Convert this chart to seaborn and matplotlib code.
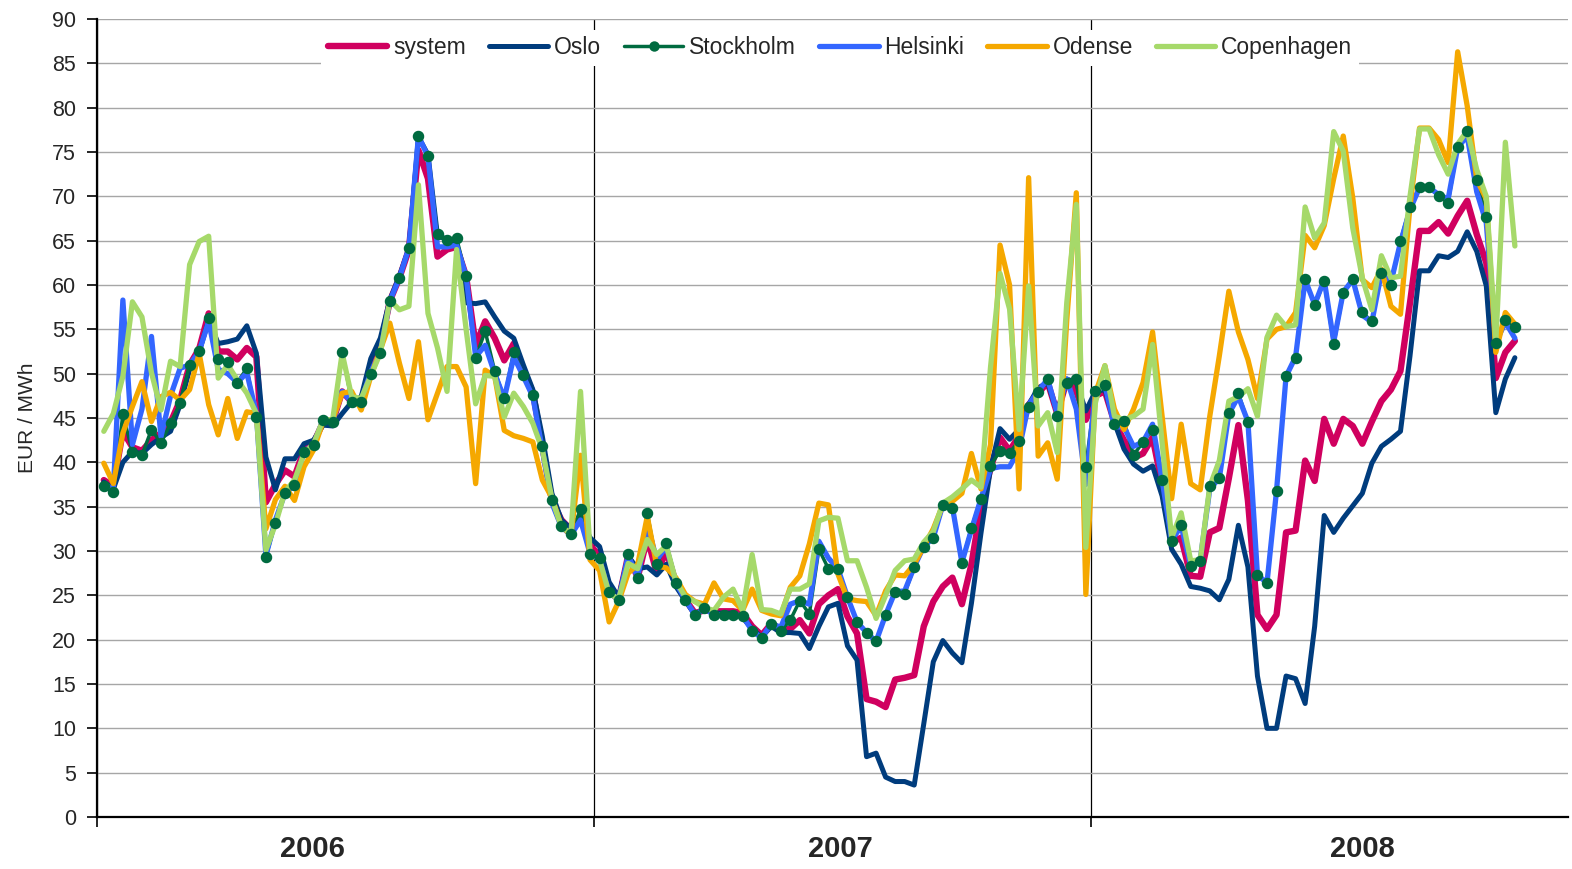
import matplotlib
matplotlib.use("Agg")
import matplotlib.pyplot as plt
from matplotlib.ticker import NullFormatter
import pandas as pd
import seaborn as sns

# weekly price observations, Jan 2006 - Nov 2008
weeks = pd.date_range("2006-01-06", periods=149, freq="7D")
year_starts = pd.to_datetime(["2006-01-01", "2007-01-01", "2008-01-01"])
year_labels = ["2006", "2007", "2008"]
year_label_dates = pd.to_datetime(["2006-06-08", "2007-07-01", "2008-07-18"])

system = [
    38.0, 37.3, 43.5, 41.7, 41.3, 42.5, 43.3, 44.5, 47.0, 51.0,
    52.8, 56.8, 52.5, 52.5, 51.6, 52.9, 51.9, 35.5, 37.5, 39.1,
    38.4, 41.4, 42.2, 44.5, 44.5, 48.0, 46.8, 47.0, 50.5, 53.0,
    58.2, 60.8, 64.0, 75.2, 72.0, 63.2, 64.0, 64.3, 61.0, 53.2,
    55.9, 54.0, 51.5, 53.4, 50.4, 47.9, 41.8, 35.7, 33.5, 32.4,
    33.9, 30.7, 29.4, 25.5, 24.5, 29.5, 27.0, 31.5, 27.5, 30.0,
    26.4, 24.5, 23.0, 23.3, 23.2, 23.2, 23.2, 23.0, 21.5, 20.5,
    21.8, 21.2, 21.2, 22.2, 20.7, 24.0, 25.0, 25.7, 22.6, 20.7,
    13.3, 13.0, 12.4, 15.5, 15.7, 16.0, 21.5, 24.3, 26.0, 27.0,
    24.0, 28.5, 35.0, 39.3, 42.8, 41.3, 43.0, 46.5, 47.8, 49.0,
    45.5, 49.2, 48.0, 44.8, 47.5, 48.0, 44.5, 42.5, 40.5, 41.0,
    42.8, 37.5, 31.0, 31.5, 27.2, 27.1, 32.1, 32.6, 38.2, 44.2,
    35.7, 22.8, 21.2, 22.8, 32.1, 32.3, 40.2, 37.9, 44.9, 42.1,
    44.9, 44.1, 42.1, 44.6, 46.9, 48.2, 50.3, 58.0, 66.1, 66.1,
    67.1, 65.8, 67.8, 69.5, 65.7, 62.5, 49.5, 52.4, 53.7,
]
oslo = [
    37.8, 37.0, 40.0, 41.2, 41.0, 42.0, 42.8, 43.5, 46.5, 50.5,
    52.5, 56.0, 53.4, 53.6, 53.9, 55.4, 52.3, 40.6, 36.9, 40.4,
    40.4, 42.1, 42.5, 44.2, 44.1, 45.5, 46.8, 47.4, 51.7, 54.0,
    58.3, 61.0, 64.1, 76.7, 74.7, 65.5, 65.2, 64.5, 58.0, 57.9,
    58.1, 56.4, 54.8, 54.0, 51.0, 48.2, 42.9, 36.5, 33.5, 32.5,
    33.8, 31.5, 30.5, 26.5, 24.8, 29.4, 28.0, 28.2, 27.3, 28.5,
    26.0, 24.4, 22.8, 23.5, 23.0, 23.0, 23.0, 22.5, 21.2, 20.3,
    21.5, 20.8, 20.8, 20.7, 19.0, 21.5, 23.7, 24.1, 19.3, 17.7,
    6.8, 7.2, 4.5, 4.0, 4.0, 3.6, 10.5, 17.5, 19.9, 18.5,
    17.4, 24.1, 32.0, 39.3, 43.8, 42.6, 43.7, 46.5, 48.4, 49.0,
    45.6, 49.4, 49.0, 45.8, 48.0, 48.2, 44.5, 41.5, 39.8, 39.0,
    39.6, 36.2, 30.2, 28.5, 26.0, 25.8, 25.5, 24.5, 26.8, 32.9,
    28.2, 15.9, 10.0, 10.0, 15.9, 15.6, 12.8, 21.5, 34.0, 32.1,
    33.7, 35.1, 36.5, 39.9, 41.8, 42.6, 43.5, 52.0, 61.6, 61.6,
    63.3, 63.1, 63.8, 66.0, 63.8, 59.9, 45.6, 49.4, 51.8,
]
stockholm = [
    37.3, 36.6, 45.4, 41.2, 40.8, 43.7, 42.2, 44.4, 46.7, 51.0,
    52.6, 56.3, 51.6, 51.3, 49.0, 50.6, 45.1, 29.3, 33.2, 36.5,
    37.4, 41.2, 42.0, 44.8, 44.6, 52.5, 46.8, 46.8, 50.0, 52.3,
    58.2, 60.8, 64.2, 76.8, 74.5, 65.7, 65.1, 65.3, 61.0, 51.8,
    54.8, 50.3, 47.2, 52.5, 49.8, 47.6, 41.8, 35.7, 32.8, 31.9,
    34.7, 29.7, 29.2, 25.4, 24.5, 29.7, 26.9, 34.3, 28.5, 30.9,
    26.4, 24.5, 22.8, 23.6, 22.8, 22.8, 22.8, 22.7, 21.0, 20.2,
    21.8, 21.0, 22.2, 24.4, 22.9, 30.2, 28.0, 28.0, 24.8, 22.0,
    20.8, 19.8, 22.8, 25.4, 25.2, 28.2, 30.5, 31.5, 35.2, 34.8,
    28.7, 32.6, 35.9, 39.6, 41.3, 41.1, 42.4, 46.2, 47.9, 49.4,
    45.2, 49.0, 49.4, 39.5, 48.0, 48.7, 44.3, 44.7, 40.8, 42.3,
    43.7, 38.0, 31.1, 32.9, 28.3, 28.9, 37.3, 38.2, 45.6, 47.8,
    44.5, 27.3, 26.4, 36.8, 49.7, 51.8, 60.7, 57.7, 60.4, 53.3,
    59.1, 60.7, 56.9, 55.9, 61.4, 60.0, 65.0, 68.8, 71.1, 71.1,
    70.0, 69.3, 75.6, 77.4, 71.8, 67.7, 53.5, 56.0, 55.3,
]
helsinki = [
    37.5, 37.0, 58.3, 42.0, 46.0, 54.2, 42.9, 47.5, 50.6, 51.0,
    52.5, 55.9, 50.5, 50.0, 49.0, 50.1, 45.5, 29.5, 33.5, 36.5,
    37.4, 41.2, 42.0, 44.8, 44.6, 48.0, 46.8, 47.0, 50.2, 52.5,
    58.2, 60.8, 64.2, 76.8, 74.5, 64.3, 64.3, 64.5, 61.0, 51.9,
    53.2, 50.0, 47.2, 51.9, 49.7, 47.4, 41.4, 35.4, 32.7, 31.8,
    33.5, 29.7, 29.0, 25.3, 24.5, 29.5, 27.0, 33.0, 29.0, 30.5,
    26.4, 24.5, 22.8, 23.5, 22.8, 22.8, 22.8, 22.7, 21.0, 20.2,
    21.8, 21.4, 24.0, 24.4, 24.0, 31.1, 29.2, 28.0, 24.8, 22.0,
    20.8, 19.8, 22.8, 25.4, 25.5, 28.2, 30.5, 31.5, 35.2, 35.0,
    28.7, 32.4, 35.9, 39.3, 39.5, 39.5, 41.5, 46.5, 48.0, 49.4,
    45.5, 49.4, 46.0, 37.5, 48.0, 48.7, 44.0, 44.0, 41.8, 42.3,
    44.3, 38.0, 31.2, 32.8, 28.3, 29.0, 37.0, 38.2, 45.5, 47.4,
    44.6, 27.3, 26.4, 36.8, 49.7, 51.9, 60.6, 57.8, 60.6, 53.6,
    59.2, 60.6, 56.6, 55.8, 61.4, 60.3, 64.8, 68.5, 71.0, 71.0,
    70.2, 69.7, 75.5, 76.8, 70.5, 67.0, 53.5, 55.8, 54.0,
]
odense = [
    39.9, 37.6, 43.3, 46.3, 49.1, 44.6, 47.4, 47.9, 47.0, 48.2,
    52.3, 46.5, 43.1, 47.2, 42.7, 45.7, 45.5, 32.5, 35.8, 37.3,
    35.7, 39.5, 41.4, 44.6, 44.8, 47.8, 48.0, 45.9, 49.7, 52.7,
    55.7, 51.2, 47.2, 53.6, 44.8, 47.8, 50.8, 50.8, 48.5, 37.6,
    50.4, 49.7, 43.6, 43.0, 42.7, 42.3, 38.0, 36.0, 32.8, 31.8,
    40.8, 29.0, 27.8, 22.0, 24.3, 27.5, 28.5, 33.9, 28.3, 28.1,
    27.0, 25.1, 24.3, 24.0, 26.4, 24.6, 24.4, 23.3, 25.7, 23.3,
    22.9, 22.7, 25.9, 27.2, 30.8, 35.4, 35.2, 27.4, 24.6, 24.4,
    24.3, 22.7, 25.5, 27.3, 27.2, 28.5, 30.5, 32.5, 35.2, 35.6,
    36.5, 41.0, 37.0, 42.0, 64.5, 60.0, 37.0, 72.1, 40.7, 42.2,
    38.1, 56.0, 70.4, 25.1, 47.8, 50.9, 46.0, 43.7, 46.0, 49.0,
    54.7, 45.2, 35.9, 44.3, 37.6, 36.9, 45.2, 52.0, 59.3, 54.7,
    51.6, 47.2, 53.9, 55.0, 55.3, 56.9, 65.6, 64.2, 66.7, 72.0,
    76.8, 69.8, 60.6, 59.7, 61.8, 57.6, 56.7, 68.9, 77.7, 77.7,
    76.4, 73.8, 86.3, 80.2, 71.9, 69.7, 52.4, 56.9, 55.6,
]
copenhagen = [
    43.5, 45.5, 49.7, 58.1, 56.4, 50.1, 45.9, 51.4, 50.8, 62.3,
    64.9, 65.5, 49.5, 51.0, 49.3, 47.8, 45.5, 30.1, 33.0, 36.7,
    38.0, 41.0, 42.1, 44.8, 44.8, 52.3, 47.4, 47.2, 49.8, 52.3,
    58.3, 57.2, 57.6, 71.3, 56.8, 52.9, 48.0, 64.0, 55.0, 46.6,
    49.8, 49.7, 45.1, 47.8, 46.3, 44.4, 41.4, 35.9, 32.7, 32.0,
    48.0, 29.9, 29.0, 25.2, 24.6, 28.6, 28.0, 31.3, 29.6, 30.6,
    26.6, 24.8, 24.3, 23.6, 23.3, 24.8, 25.7, 23.3, 29.6, 23.4,
    23.3, 22.9, 25.7, 25.7, 26.3, 33.4, 33.8, 33.7, 28.9, 28.9,
    25.9, 22.4, 25.0, 27.8, 28.9, 29.1, 31.0, 32.2, 35.4, 36.1,
    37.0, 38.0, 37.2, 50.7, 61.3, 57.3, 43.7, 59.9, 44.1, 45.6,
    41.1, 58.0, 69.1, 30.4, 46.7, 50.9, 45.2, 44.8, 45.2, 46.0,
    53.3, 42.2, 31.5, 34.3, 28.9, 29.0, 37.3, 40.2, 46.9, 47.4,
    48.3, 45.2, 54.1, 56.6, 55.3, 55.5, 68.8, 65.3, 67.0, 77.3,
    75.1, 66.4, 60.8, 57.2, 63.3, 60.8, 61.0, 70.0, 77.6, 77.6,
    74.7, 72.5, 75.9, 77.4, 73.0, 70.0, 53.5, 76.1, 64.4,
]

series = {
    "system": system,
    "Oslo": oslo,
    "Stockholm": stockholm,
    "Helsinki": helsinki,
    "Odense": odense,
    "Copenhagen": copenhagen,
}
colors = {
    "system": "#D0005F",
    "Oslo": "#003C7D",
    "Stockholm": "#006B40",
    "Helsinki": "#3366FF",
    "Odense": "#F5A800",
    "Copenhagen": "#A6D96A",
}
widths = {"system": 4.6, "Oslo": 3.6, "Stockholm": 2.5,
          "Helsinki": 3.8, "Odense": 3.8, "Copenhagen": 3.8}

sns.set_style("white")
plt.rcParams["font.family"] = ["Liberation Sans", "DejaVu Sans"]

fig = plt.figure(figsize=(15.72, 8.69), dpi=100)
ax = fig.add_axes([97 / 1572, 52 / 869, 1471 / 1572, 798 / 869])

for name, values in series.items():
    extra = {}
    if name == "Stockholm":
        extra = dict(marker="o", markersize=7.5, markeredgewidth=0)
    sns.lineplot(x=weeks, y=values, ax=ax, color=colors[name],
                 linewidth=widths[name], label=name, **extra)

# Stockholm markers sit on top of every line
sns.scatterplot(x=weeks, y=stockholm, ax=ax, color=colors["Stockholm"],
                s=68, linewidth=0, zorder=10, legend=False)

ax.set_ylim(0, 90)
ax.set_yticks(range(0, 91, 5))
ax.set_xlim(pd.Timestamp("2006-01-01"), pd.Timestamp("2008-12-16"))
ax.set_xticks(year_starts)
ax.xaxis.set_major_formatter(NullFormatter())
ax.set_xticks(year_label_dates, minor=True)
ax.set_xticklabels(year_labels, minor=True, fontsize=21, fontweight="bold")
ax.tick_params(axis="x", which="minor", length=0, pad=13)
ax.tick_params(axis="x", which="major", length=7, width=1.2, direction="out",
               color="black", bottom=True)
ax.tick_params(axis="y", length=7, width=1.2, direction="out", color="black",
               left=True, labelsize=15.5, pad=8)

ax.set_axisbelow(True)
ax.yaxis.grid(True, color="#A6A6A6", linewidth=1.0)
ax.xaxis.grid(True, which="major", color="black", linewidth=0.9)
for side in ["top", "right"]:
    ax.spines[side].set_visible(False)
for side in ["left", "bottom"]:
    ax.spines[side].set_color("black")
    ax.spines[side].set_linewidth(1.6)

ax.set_xlabel("")
ax.set_ylabel("EUR / MWh", fontsize=15, labelpad=11)

ax.legend(loc="center", bbox_to_anchor=(0.505, 0.9637), ncol=6, frameon=True,
          fancybox=False, framealpha=1, edgecolor="none", facecolor="white",
          fontsize=16.5, handlelength=2.6, handletextpad=0.25, columnspacing=1.0,
          borderpad=0.3)

fig.savefig("out.png", dpi=100)
plt.close(fig)
